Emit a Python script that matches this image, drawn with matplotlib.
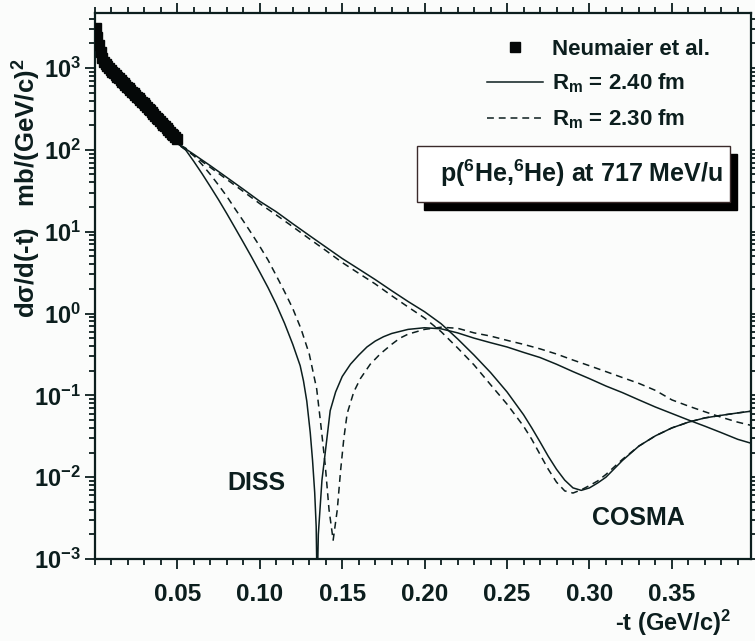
import matplotlib
matplotlib.use("Agg")
import matplotlib.pyplot as plt
from matplotlib.ticker import MultipleLocator, LogLocator, NullFormatter
from matplotlib.patches import Rectangle

plt.rcParams['font.family'] = ['Liberation Sans', 'DejaVu Sans']
plt.rcParams['mathtext.fontset'] = 'custom'
plt.rcParams['mathtext.rm'] = 'Liberation Sans'
plt.rcParams['mathtext.bf'] = 'Liberation Sans:bold'
plt.rcParams['mathtext.it'] = 'Liberation Sans:italic'

INK = '#0c1e1e'

# ---- measured data (Neumaier et al.)
data_t = [0.0005, 0.0015, 0.0025, 0.0035, 0.0045, 0.0055, 0.0065, 0.0075, 0.0085, 0.0095,
          0.0105, 0.0115, 0.0125, 0.0135, 0.0145, 0.0155, 0.0165, 0.0175, 0.0185, 0.0195,
          0.0205, 0.0215, 0.0225, 0.0235, 0.0245, 0.0255, 0.0265, 0.0275, 0.0285, 0.0295,
          0.0305, 0.0315, 0.0325, 0.0335, 0.0345, 0.0355, 0.0365, 0.0375, 0.0385, 0.0395,
          0.0405, 0.0415, 0.0425, 0.0435, 0.0445, 0.0455, 0.0465, 0.0475, 0.0485, 0.0495]
data_xs = [3100, 2400, 1900, 1560, 1320, 1180, 1110, 1050, 995, 945,
           899, 859, 820, 782, 747, 713, 681, 650, 620, 592,
           565, 540, 515, 491, 469, 448, 428, 408, 389, 372,
           354, 337, 320, 304, 289, 275, 261, 248, 236, 224,
           213, 203, 193, 183, 174, 166, 157, 150, 142, 135]

# ---- DISS, Rm = 2.40 fm
diss240_t = [0.0, 0.003, 0.006, 0.01, 0.015, 0.02, 0.025, 0.03, 0.035, 0.04, 0.045, 0.05,
             0.055, 0.06, 0.065, 0.07, 0.075, 0.08, 0.085, 0.09, 0.095, 0.10, 0.105, 0.11,
             0.115, 0.12, 0.1245, 0.1265, 0.1285, 0.1306, 0.132, 0.1333, 0.1342,
             0.1348, 0.1355, 0.1377, 0.1397, 0.1427, 0.146, 0.15, 0.155, 0.16, 0.165,
             0.17, 0.175, 0.18, 0.19, 0.20, 0.21, 0.22, 0.23, 0.24, 0.25, 0.26, 0.27,
             0.28, 0.29, 0.30, 0.31, 0.32, 0.33, 0.34, 0.35, 0.36, 0.37, 0.38, 0.39, 0.398]
diss240_xs = [2400, 1500, 1080, 800, 620, 495, 395, 312, 245, 192, 150, 120,
              100, 72, 51, 35.5, 24.5, 16.6, 11.1, 7.4, 4.9, 3.2, 2.07, 1.29,
              0.76, 0.42, 0.23, 0.15, 0.085, 0.035, 0.016, 0.0065, 0.0025,
              0.0004, 0.002, 0.0092, 0.02, 0.065, 0.11, 0.17, 0.24, 0.31, 0.39,
              0.46, 0.52, 0.57, 0.64, 0.67, 0.65, 0.58, 0.50, 0.44, 0.39, 0.335, 0.29,
              0.24, 0.195, 0.16, 0.13, 0.108, 0.088, 0.072, 0.06, 0.05, 0.042, 0.035, 0.029, 0.026]

# ---- DISS, Rm = 2.30 fm
diss230_t = [0.0, 0.003, 0.006, 0.01, 0.015, 0.02, 0.025, 0.03, 0.035, 0.04, 0.045, 0.05,
             0.055, 0.06, 0.065, 0.07, 0.075, 0.08, 0.085, 0.09, 0.095, 0.10, 0.105, 0.11,
             0.115, 0.12, 0.125, 0.13, 0.1345, 0.1367, 0.1397, 0.142, 0.1445, 0.147,
             0.149, 0.151, 0.153, 0.157, 0.161, 0.167, 0.173, 0.18, 0.185, 0.19, 0.20,
             0.21, 0.22, 0.23, 0.24, 0.25, 0.26, 0.27, 0.28, 0.29, 0.30, 0.31, 0.32,
             0.33, 0.34, 0.35, 0.36, 0.37, 0.38, 0.39, 0.398]
diss230_xs = [2400, 1500, 1080, 800, 620, 495, 395, 312, 245, 192, 150, 120,
              105, 85, 66, 50, 37, 27, 19, 13.5, 9.5, 6.6, 4.5, 2.9,
              1.85, 1.15, 0.65, 0.32, 0.12, 0.05, 0.014, 0.004, 0.0017, 0.004,
              0.012, 0.03, 0.06, 0.11, 0.16, 0.24, 0.32, 0.42, 0.50, 0.56, 0.64,
              0.68, 0.66, 0.58, 0.53, 0.47, 0.42, 0.37, 0.32, 0.27, 0.23, 0.195, 0.165,
              0.14, 0.115, 0.088, 0.074, 0.063, 0.054, 0.047, 0.043]

# ---- COSMA, Rm = 2.40 fm
cosma240_t = [0.0, 0.003, 0.006, 0.01, 0.015, 0.02, 0.025, 0.03, 0.035, 0.04, 0.045, 0.05,
              0.06, 0.07, 0.08, 0.09, 0.10, 0.11, 0.12, 0.13, 0.14, 0.15, 0.16, 0.17,
              0.18, 0.19, 0.20, 0.21, 0.22, 0.23, 0.24, 0.25, 0.26, 0.265, 0.27, 0.275,
              0.28, 0.285, 0.29, 0.295, 0.30, 0.305, 0.31, 0.32, 0.33, 0.34, 0.35, 0.36,
              0.37, 0.38, 0.39, 0.398]
cosma240_xs = [2400, 1500, 1080, 800, 620, 495, 395, 312, 245, 192, 150, 120,
               88, 64, 46, 33, 23.5, 17.5, 12.5, 9.0, 6.5, 4.7, 3.5, 2.6,
               1.9, 1.4, 1.05, 0.75, 0.49, 0.31, 0.19, 0.11, 0.058, 0.040, 0.027, 0.018,
               0.0125, 0.0092, 0.0074, 0.0069, 0.0074, 0.0085, 0.010, 0.016, 0.024, 0.032, 0.040, 0.047,
               0.053, 0.057, 0.061, 0.064]

# ---- COSMA, Rm = 2.30 fm
cosma230_t = [0.0, 0.003, 0.006, 0.01, 0.015, 0.02, 0.025, 0.03, 0.035, 0.04, 0.045, 0.05,
              0.06, 0.07, 0.08, 0.09, 0.10, 0.11, 0.12, 0.13, 0.14, 0.15, 0.16, 0.17,
              0.18, 0.19, 0.20, 0.21, 0.22, 0.23, 0.24, 0.25, 0.26, 0.265, 0.27, 0.275,
              0.28, 0.285, 0.29, 0.295, 0.30, 0.305, 0.31, 0.32, 0.33, 0.34, 0.35, 0.36,
              0.37, 0.38, 0.39, 0.398]
cosma230_xs = [2400, 1500, 1080, 800, 620, 495, 395, 312, 245, 192, 150, 118,
               85, 61, 43.5, 31, 22, 16, 11.5, 8.2, 5.9, 4.2, 3.1, 2.3,
               1.65, 1.2, 0.88, 0.60, 0.38, 0.235, 0.135, 0.078, 0.042, 0.029, 0.019, 0.0125,
               0.0087, 0.0068, 0.0064, 0.0070, 0.0079, 0.0090, 0.0108, 0.0165, 0.024, 0.032, 0.040, 0.047,
               0.053, 0.057, 0.061, 0.064]

xtick_vals = [0.05, 0.10, 0.15, 0.20, 0.25, 0.30, 0.35]
ytick_exps = [-3, -2, -1, 0, 1, 2, 3]

fig = plt.figure(figsize=(7.55, 6.41), dpi=100, facecolor='#fbfcfb')
ax = fig.add_axes([0.1258, 0.1279, 0.8689, 0.8518])
ax.set_facecolor('#fbfcfb')

dash = (4.5, 3.2)
ax.plot(diss240_t, diss240_xs, color=INK, lw=1.1, label=r'R$_{\mathbf{m}}$ = 2.40 fm')
ax.plot(diss230_t, diss230_xs, color=INK, lw=1.1, dashes=dash, label=r'R$_{\mathbf{m}}$ = 2.30 fm')
ax.plot(cosma240_t, cosma240_xs, color=INK, lw=1.1)
ax.plot(cosma230_t, cosma230_xs, color=INK, lw=1.1, dashes=dash)
ax.plot(data_t, data_xs, 's', color='#050808', ms=7.5, mec='#050808', zorder=5,
        label='Neumaier et al.')

ax.set_yscale('log')
ax.set_xlim(0, 0.398)
ax.set_ylim(1e-3, 4700)

ax.set_xticks(xtick_vals)
ax.set_xticklabels(['%.2f' % v for v in xtick_vals])
ax.xaxis.set_minor_locator(MultipleLocator(0.01))
ax.set_yticks([10.0 ** e for e in ytick_exps])
ax.set_yticklabels([r'$\mathbf{10^{%d}}$' % e for e in ytick_exps])
ax.yaxis.set_minor_locator(LogLocator(base=10, subs=range(2, 10), numticks=20))
ax.yaxis.set_minor_formatter(NullFormatter())

ax.tick_params(which='both', direction='out', top=True, right=True, color=INK, width=1.3)
ax.tick_params(which='major', length=7)
ax.tick_params(which='minor', length=4.5)
ax.tick_params(axis='x', which='major', pad=10, labelsize=17.5, labelcolor=INK)
ax.tick_params(axis='y', which='major', pad=3, labelsize=17, labelcolor=INK)
for lab in ax.get_xticklabels():
    lab.set_fontweight('bold')
for sp in ax.spines.values():
    sp.set_color(INK)
    sp.set_linewidth(1.6)

fig.text(27 / 755, 1 - 188 / 641, r'dσ/d(-t)   mb/(GeV/c)$^{\mathbf{2}}$', rotation=90,
         ha='center', va='center', fontsize=18.5, fontweight='bold', color=INK)
fig.text(731 / 755, 1 - 623 / 641, r'-t (GeV/c)$^{\mathbf{2}}$', ha='right', va='center',
         fontsize=17, fontweight='bold', color=INK)

ax.text(0.0979, 0.0085, 'DISS', ha='center', va='center', fontsize=18,
        fontweight='bold', color=INK)
ax.text(0.3294, 0.0032, 'COSMA', ha='center', va='center', fontsize=18,
        fontweight='bold', color=INK)

# legend in data order: marker, solid, dashed
h, l = ax.get_legend_handles_labels()
order = [2, 0, 1]
leg = ax.legend([h[i] for i in order], [l[i] for i in order], loc='upper left',
                bbox_to_anchor=(0.5976, 0.953), frameon=False, borderpad=0,
                borderaxespad=0, handlelength=2.52, handletextpad=0.4,
                labelspacing=0.55, prop={'size': 16, 'weight': 'bold'})
for t in leg.get_texts():
    t.set_color(INK)

# reaction label with drop shadow
bx, by, bw, bh = 0.4909, 0.6538, 0.4771, 0.1026
ax.add_patch(Rectangle((bx + 0.0107, by - 0.0147), bw, bh, transform=ax.transAxes,
                       facecolor='black', edgecolor='black', zorder=6))
ax.add_patch(Rectangle((bx, by), bw, bh, transform=ax.transAxes,
                       facecolor='white', edgecolor='#3a2a2a', lw=1.0, zorder=7))
ax.text(0.741, 0.707, r'p($^{\mathbf{6}}$He,$^{\mathbf{6}}$He) at 717 MeV/u',
        transform=ax.transAxes, ha='center', va='center', fontsize=18,
        fontweight='bold', color=INK, zorder=8)

fig.savefig('out.png', dpi=100, facecolor=fig.get_facecolor())
